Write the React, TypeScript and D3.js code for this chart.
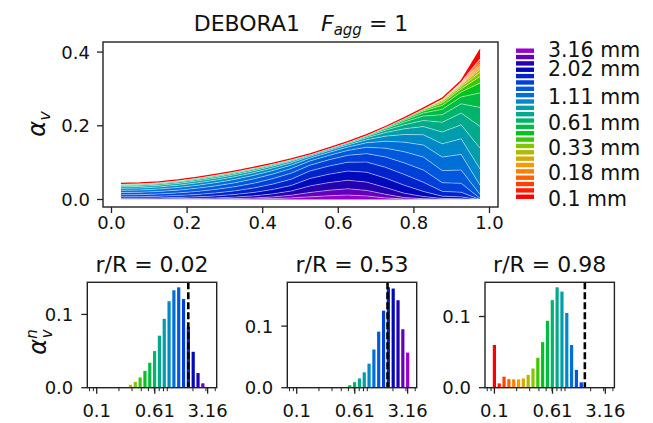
import React from 'react';
import * as d3 from 'd3';

// radial positions r/R
const radius = [0.025, 0.075, 0.125, 0.175, 0.225, 0.275, 0.325, 0.375, 0.425, 0.475,
  0.525, 0.575, 0.625, 0.675, 0.725, 0.775, 0.825, 0.875, 0.925, 0.975];

// total void fraction alpha_v at each radial position
const alphaTotal = [0.044, 0.045, 0.048, 0.053, 0.060, 0.068, 0.077, 0.087, 0.098, 0.110,
  0.124, 0.140, 0.157, 0.176, 0.198, 0.222, 0.248, 0.275, 0.322, 0.407];

// bubble diameter classes (mm)
const diameters = [0.1, 0.1162, 0.135, 0.1569, 0.1823, 0.2119, 0.2461, 0.2861, 0.3324, 0.3863,
  0.449, 0.5217, 0.6061, 0.7043, 0.8185, 0.9512, 1.1053, 1.284, 1.4925, 1.7346,
  2.0154, 2.3428, 2.7214, 3.1623];

const classColors = ['#ff0000', '#ff1c00', '#ff4000', '#ff6000', '#ff8000', '#f59a00', '#d4aa00', '#b0b800',
  '#84c400', '#3cc800', '#00c41c', '#00bc44', '#00b46a', '#00aa8a', '#009eaa', '#0088c8',
  '#0070d8', '#0058dc', '#0040d8', '#0024cc', '#0008bc', '#2400b0', '#6400bc', '#9a00cc'];

const legendLabels = ['0.1 mm', '', '', '', '0.18 mm', '', '', '', '0.33 mm', '', '', '', '0.61 mm', '', '', '',
  '1.11 mm', '', '', '', '2.02 mm', '', '', '3.16 mm'];

// normalized distribution alpha_v^n per class, one row per radial position
const fractions = [
  [0.001, 0, 0, 0, 0, 0.0005, 0.001, 0.004, 0.008, 0.014, 0.023, 0.034, 0.050, 0.071, 0.094, 0.118, 0.133, 0.137, 0.121, 0.083, 0.049, 0.020, 0.006, 0.001],
  [0.001, 0, 0, 0, 0, 0.001, 0.002, 0.004, 0.008, 0.014, 0.023, 0.034, 0.050, 0.071, 0.093, 0.117, 0.132, 0.137, 0.122, 0.084, 0.050, 0.021, 0.006, 0.001],
  [0.001, 0, 0, 0, 0, 0.001, 0.001, 0.003, 0.007, 0.013, 0.021, 0.032, 0.047, 0.067, 0.090, 0.114, 0.131, 0.137, 0.125, 0.090, 0.055, 0.024, 0.008, 0.002],
  [0.001, 0, 0, 0, 0, 0, 0.001, 0.003, 0.006, 0.012, 0.019, 0.030, 0.044, 0.063, 0.086, 0.110, 0.129, 0.137, 0.128, 0.096, 0.060, 0.028, 0.010, 0.003],
  [0.001, 0, 0, 0, 0, 0, 0.001, 0.002, 0.005, 0.010, 0.017, 0.027, 0.040, 0.058, 0.081, 0.106, 0.127, 0.137, 0.131, 0.103, 0.066, 0.032, 0.012, 0.004],
  [0.001, 0, 0, 0, 0, 0, 0.001, 0.002, 0.004, 0.008, 0.015, 0.024, 0.036, 0.053, 0.074, 0.099, 0.122, 0.135, 0.135, 0.113, 0.076, 0.040, 0.016, 0.006],
  [0.001, 0, 0, 0, 0, 0, 0, 0.001, 0.003, 0.007, 0.013, 0.021, 0.032, 0.047, 0.067, 0.090, 0.114, 0.132, 0.138, 0.122, 0.087, 0.050, 0.021, 0.009],
  [0.001, 0, 0, 0, 0, 0, 0, 0.001, 0.002, 0.005, 0.010, 0.017, 0.026, 0.040, 0.058, 0.081, 0.107, 0.130, 0.143, 0.133, 0.101, 0.064, 0.031, 0.014],
  [0.001, 0, 0, 0, 0, 0, 0, 0, 0.001, 0.004, 0.008, 0.013, 0.021, 0.032, 0.048, 0.070, 0.097, 0.125, 0.147, 0.146, 0.118, 0.082, 0.045, 0.024],
  [0.001, 0, 0, 0, 0, 0, 0, 0, 0.001, 0.002, 0.005, 0.009, 0.015, 0.025, 0.038, 0.058, 0.084, 0.115, 0.148, 0.156, 0.135, 0.103, 0.066, 0.040],
  [0.001, 0, 0, 0, 0, 0, 0, 0, 0, 0, 0.001, 0.004, 0.009, 0.015, 0.025, 0.039, 0.062, 0.091, 0.125, 0.163, 0.161, 0.142, 0.095, 0.057],
  [0.001, 0, 0, 0, 0, 0, 0, 0, 0, 0, 0.002, 0.004, 0.008, 0.014, 0.023, 0.036, 0.057, 0.086, 0.120, 0.157, 0.162, 0.148, 0.106, 0.072],
  [0.001, 0, 0, 0, 0, 0, 0, 0, 0, 0.001, 0.002, 0.005, 0.009, 0.015, 0.024, 0.037, 0.057, 0.085, 0.118, 0.152, 0.158, 0.146, 0.108, 0.077],
  [0.001, 0, 0, 0, 0, 0, 0, 0, 0.001, 0.002, 0.004, 0.007, 0.012, 0.020, 0.031, 0.047, 0.069, 0.098, 0.130, 0.155, 0.152, 0.127, 0.085, 0.055],
  [0.001, 0, 0, 0, 0, 0, 0, 0.001, 0.002, 0.004, 0.008, 0.013, 0.021, 0.033, 0.049, 0.070, 0.095, 0.121, 0.142, 0.148, 0.129, 0.092, 0.050, 0.022],
  [0.001, 0, 0, 0, 0, 0, 0.001, 0.002, 0.004, 0.008, 0.014, 0.022, 0.034, 0.050, 0.070, 0.094, 0.118, 0.136, 0.142, 0.132, 0.098, 0.052, 0.019, 0.005],
  [0.002, 0, 0, 0, 0.001, 0.001, 0.002, 0.004, 0.008, 0.014, 0.022, 0.033, 0.048, 0.067, 0.089, 0.112, 0.131, 0.141, 0.134, 0.100, 0.055, 0.024, 0.007, 0.002],
  [0.004, 0.001, 0.001, 0.002, 0.003, 0.004, 0.006, 0.010, 0.016, 0.025, 0.037, 0.054, 0.074, 0.096, 0.116, 0.130, 0.133, 0.119, 0.085, 0.047, 0.022, 0.008, 0.002, 0.001],
  [0.008, 0.003, 0.004, 0.004, 0.005, 0.006, 0.008, 0.012, 0.018, 0.027, 0.041, 0.058, 0.078, 0.099, 0.118, 0.131, 0.132, 0.112, 0.075, 0.039, 0.016, 0.005, 0.001, 0],
  [0.060, 0.006, 0.0155, 0.012, 0.0117, 0.0117, 0.013, 0.018, 0.027, 0.042, 0.064, 0.094, 0.123, 0.141, 0.135, 0.105, 0.060, 0.025, 0.0075, 0, 0, 0, 0, 0],
];

const panelRows = [0, 10, 19];
const panelTitles = ['r/R = 0.02', 'r/R = 0.53', 'r/R = 0.98'];
const dashedDiam = [1.73, 1.69, 1.67];

const topXTicks = [0, 0.2, 0.4, 0.6, 0.8, 1.0];
const topYTicks = [0, 0.2, 0.4];
const histXTicks = [0.1, 0.61, 3.16];
const histXTickLabels = ['0.1', '0.61', '3.16'];
const histMinorTicks = [0.08, 0.09, 0.2, 0.3, 0.4, 0.5, 0.6, 0.7, 0.8, 0.9, 2, 3, 4];
const histYTicks = [0, 0.1];

const FONT = 'DejaVu Sans, sans-serif';
const AXIS = '#222';

const App = () => {
  // ---- top stacked chart ----
  const top = { left: 103, right: 498, top: 42, bottom: 207 };
  const xPad = 0.05 * (d3.max(radius)! - d3.min(radius)!);
  const x = d3.scaleLinear()
    .domain([d3.min(radius)! - xPad, d3.max(radius)! + xPad])
    .range([top.left, top.right]);
  const yMax = d3.max(alphaTotal)!;
  const y = d3.scaleLinear().domain([-0.05 * yMax, 1.05 * yMax]).range([top.bottom, top.top]);

  const keys = diameters.map((_, i) => `c${i}`).reverse(); // largest class at the bottom
  const table = radius.map((r, k) => {
    const row: any = { r };
    const s = d3.sum(fractions[k]);
    fractions[k].forEach((f, i) => { row[`c${i}`] = alphaTotal[k] * f / s; });
    return row;
  });
  const series = d3.stack().keys(keys)(table);
  const area = d3.area<any>().x(d => x(d.data.r)).y0(d => y(d[0])).y1(d => y(d[1]));
  const line = d3.line<any>().x(d => x(d.data.r)).y(d => y(d[1]));

  // ---- bottom histograms ----
  const panelLefts = [87.3, 287.3, 485];
  const pw = 129.4, pTop = 282.3, pBottom = 387.7;

  // ---- legend ----
  const legTop = 50.7, legStep = 6.35;

  return (
    <svg width={653} height={423} style={{ display: 'block', position: 'absolute', left: 0, top: 0 }}
      fontFamily={FONT}>
      <rect width={653} height={423} fill="#fff" />

      {/* title */}
      <text x={301} y={31} textAnchor="middle" fontSize={22} fill="#111">
        DEBORA1{'\u00a0\u00a0\u00a0'}
        <tspan fontStyle="italic">F</tspan>
        <tspan fontStyle="italic" fontSize={15} dy={4}>agg</tspan>
        <tspan dy={-4}>{'\u00a0=\u00a01'}</tspan>
      </text>

      {/* stacked areas */}
      <g>
        {series.map(s => (
          <path key={s.key} d={area(s as any)!} fill={classColors[+s.key.slice(1)]} />
        ))}
        {series.map((s, i) => (
          i < series.length - 1 ? (
            <path key={'l' + s.key} d={line(s as any)!} fill="none" stroke="#fff" strokeWidth={0.6} strokeOpacity={0.75} />
          ) : (
            <path key={'l' + s.key} d={line(s as any)!} fill="none" stroke="#ff0000" strokeWidth={1.3} />
          )
        ))}
      </g>

      {/* top axes */}
      <rect x={top.left} y={top.top} width={top.right - top.left} height={top.bottom - top.top}
        fill="none" stroke={AXIS} strokeWidth={1.4} />
      {topYTicks.map(t => (
        <g key={'yt' + t}>
          <line x1={top.left - 6} x2={top.left} y1={y(t)} y2={y(t)} stroke={AXIS} strokeWidth={1.3} />
          <text x={top.left - 13} y={y(t) + 6.5} textAnchor="end" fontSize={18} fill="#111">{d3.format('.1f')(t)}</text>
        </g>
      ))}
      {topXTicks.map(t => (
        <g key={'xt' + t}>
          <line x1={x(t)} x2={x(t)} y1={top.bottom} y2={top.bottom + 6} stroke={AXIS} strokeWidth={1.3} />
          <text x={x(t)} y={229} textAnchor="middle" fontSize={18} fill="#111">{d3.format('.1f')(t)}</text>
        </g>
      ))}
      <text transform="translate(45,124) rotate(-90)" textAnchor="middle" fontSize={24} fontStyle="italic" fill="#111">
        α<tspan fontSize={16} dy={5}>v</tspan>
      </text>

      {/* legend */}
      {diameters.map((d, i) => {
        const row = diameters.length - 1 - i;
        const cy = legTop + row * legStep;
        const shift = i === 23 ? 6 : i === 20 ? 6 : 9;
        return (
          <g key={'lg' + i}>
            <rect x={516} y={cy - 2.2} width={18} height={4.4} fill={classColors[i]} />
            {legendLabels[i] && (
              <text x={548} y={cy + shift} fontSize={20.5} fill="#111">{legendLabels[i]}</text>
            )}
          </g>
        );
      })}

      {/* histograms */}
      {panelRows.map((k, p) => {
        const left = panelLefts[p];
        const xs = d3.scaleLog().domain([0.0746, 4.19]).range([left, left + pw]);
        const ys = d3.scaleLinear().domain([0, 1.05 * d3.max(fractions[k])!]).range([pBottom, pTop]);
        return (
          <g key={'p' + p}>
            <text x={left + pw / 2} y={272} textAnchor="middle" fontSize={22} fill="#111">{panelTitles[p]}</text>
            {fractions[k].map((f, i) => f > 0 ? (
              <rect key={i} x={xs(diameters[i]) - 1.6} width={3.2} y={ys(f)} height={pBottom - ys(f)} fill={classColors[i]} />
            ) : null)}
            <line x1={xs(dashedDiam[p])} x2={xs(dashedDiam[p])} y1={pTop} y2={pBottom}
              stroke="#000" strokeWidth={2.6} strokeDasharray="7,3" />
            <rect x={left} y={pTop} width={pw} height={pBottom - pTop} fill="none" stroke={AXIS} strokeWidth={1.4} />
            {histMinorTicks.map(t => (
              <line key={'mt' + t} x1={xs(t)} x2={xs(t)} y1={pBottom} y2={pBottom + 3.5} stroke={AXIS} strokeWidth={1} />
            ))}
            {histXTicks.map((t, j) => (
              <g key={'ht' + t}>
                <line x1={xs(t)} x2={xs(t)} y1={pBottom} y2={pBottom + 6} stroke={AXIS} strokeWidth={1.3} />
                <text x={xs(t)} y={417} textAnchor="middle" fontSize={18} fill="#111">{histXTickLabels[j]}</text>
              </g>
            ))}
            {histYTicks.map(t => (
              <g key={'hy' + t}>
                <line x1={left - 6} x2={left} y1={ys(t)} y2={ys(t)} stroke={AXIS} strokeWidth={1.3} />
                <text x={left - 14} y={ys(t) + 6.5} textAnchor="end" fontSize={18} fill="#111">{d3.format('.1f')(t)}</text>
              </g>
            ))}
          </g>
        );
      })}
      <text transform="translate(46,342) rotate(-90)" textAnchor="middle" fontSize={24} fontStyle="italic" fill="#111">
        α<tspan fontSize={15} dy={-9}>n</tspan><tspan fontSize={15} dx={-9} dy={15}>v</tspan>
      </text>
    </svg>
  );
};

export default App;
